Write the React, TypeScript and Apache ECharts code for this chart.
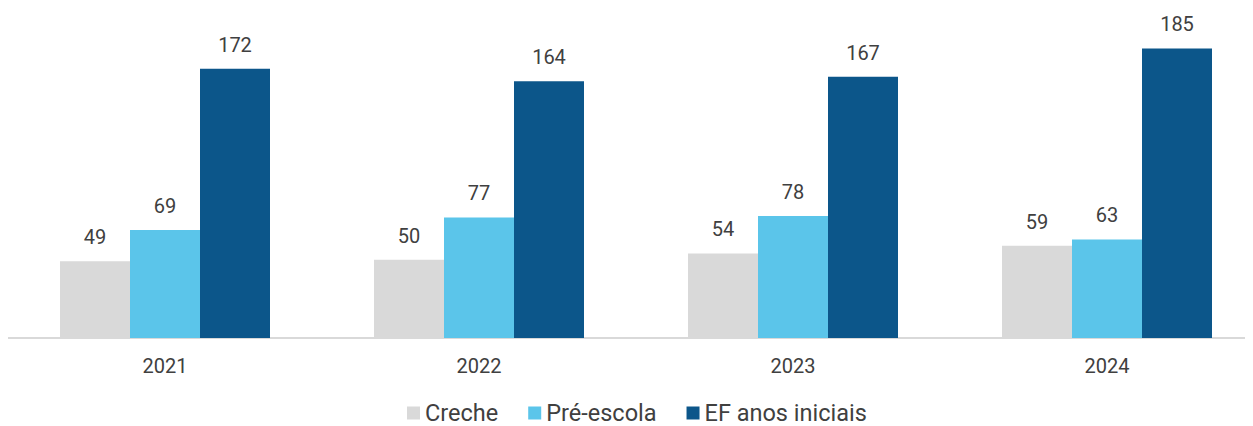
import React, { useEffect, useRef } from "react";
import * as echarts from "echarts";

const categories = ["2021", "2022", "2023", "2024"];
const seriesNames = ["Creche", "Pré-escola", "EF anos iniciais"];
const creche = [49, 50, 54, 59];
const preEscola = [69, 77, 78, 63];
const efAnosIniciais = [172, 164, 167, 185];
const colors = ["#d9d9d9", "#5bc5ea", "#0c568a"];

export default function App() {
  const ref = useRef<HTMLDivElement>(null);
  useEffect(() => {
    if (!ref.current) return;
    const chart = echarts.init(ref.current, undefined, { renderer: "svg" });
    const values = [creche, preEscola, efAnosIniciais];
    const textColor = "#404040";
    chart.setOption({
      animation: false,
      textStyle: { fontFamily: "Roboto" },
      grid: { left: 0, right: 0, top: 17, bottom: 88, containLabel: false },
      legend: {
        data: seriesNames,
        left: 399,
        top: 393,
        padding: 0,
        itemWidth: 13,
        itemHeight: 13,
        itemGap: 30,
        icon: "rect",
        textStyle: { fontSize: 23.5, lineHeight: 22, color: textColor, fontFamily: "Roboto" },
      },
      xAxis: {
        type: "category",
        data: categories,
        axisLine: { show: true, lineStyle: { color: "#d9d9d9", width: 2 } },
        axisTick: { show: false },
        axisLabel: { fontSize: 20, color: textColor, margin: 18, fontFamily: "Roboto" },
      },
      yAxis: {
        type: "value",
        min: 0,
        max: 200,
        show: false,
        splitLine: { show: false },
      },
      series: seriesNames.map((name, i) => ({
        name,
        type: "bar",
        data: values[i],
        barWidth: 70,
        barGap: "0%",
        barCategoryGap: "33%",
        itemStyle: { color: colors[i] },
        label: {
          show: true,
          position: "top",
          distance: 14,
          fontSize: 20,
          color: textColor,
          fontFamily: "Roboto",
        },
      })),
    });
    return () => chart.dispose();
  }, []);
  return (
    <div style={{ width: 1245, height: 418, overflow: "hidden" }}>
      <div ref={ref} style={{ width: 1256, height: 418 }} />
    </div>
  );
}
